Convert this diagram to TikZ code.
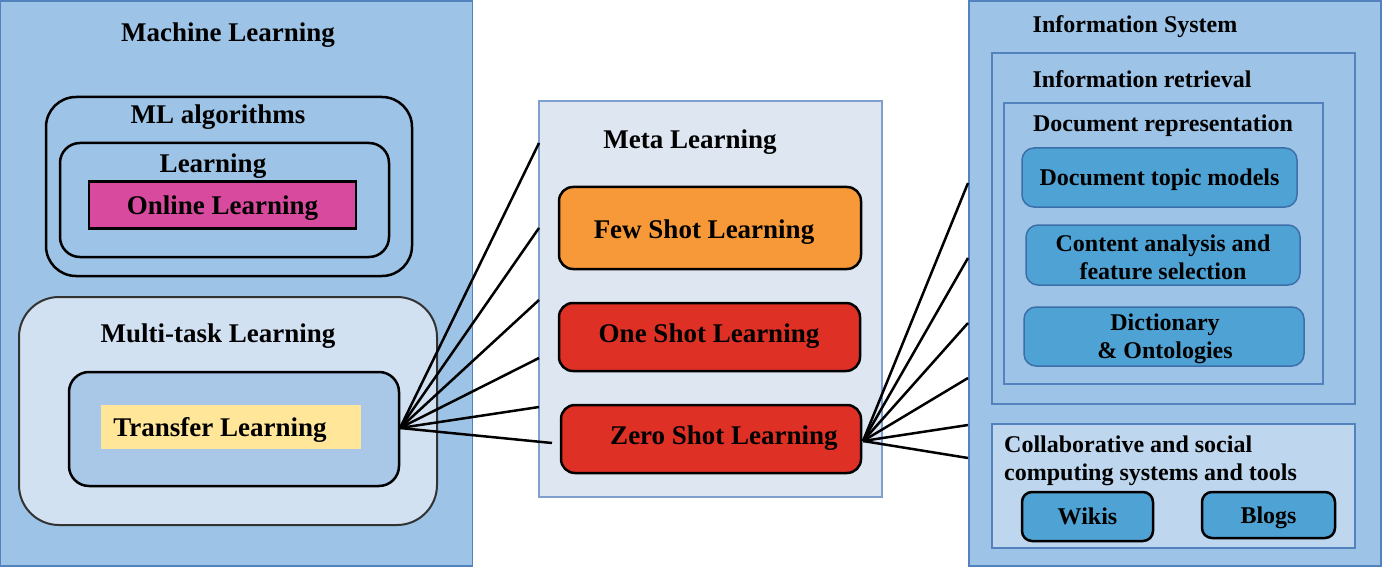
\documentclass[tikz,border=0pt]{standalone}
\usepackage{fontspec}
\setmainfont{Liberation Serif}
\begin{document}
\begin{tikzpicture}[x=1pt,y=-1pt,
  box/.style={rectangle,inner sep=0pt,outer sep=0pt},
  big/.style={box,fill=bgblue,draw=edgeblue,line width=1.5pt},
  rbox/.style={box,rounded corners=#1,draw=black,line width=2.5pt},
  lbl/.style={inner sep=0pt,text height=18pt,text depth=0pt,font=\fontsize{27}{32}\selectfont\bfseries},
  slbl/.style={inner sep=0pt,text height=16pt,text depth=0pt,font=\fontsize{24}{28}\selectfont\bfseries},
  mlbl/.style={inner sep=0pt,font=\fontsize{24}{28}\selectfont\bfseries,align=left},
  shot/.style={box,rounded corners=14pt,draw=black,line width=2.5pt},
  bluebox/.style={box,rounded corners=12pt,fill=midblue,draw=darkblue,line width=1.5pt,font=\fontsize{24}{28}\selectfont\bfseries,align=center},
  tool/.style={box,rounded corners=10pt,fill=midblue,draw=black,line width=2.5pt,text height=16pt,text depth=0pt,font=\fontsize{24}{28}\selectfont\bfseries},
  conn/.style={draw=black,line width=2.5pt}]
\definecolor{bgblue}{RGB}{157,195,230}
\definecolor{edgeblue}{RGB}{84,130,190}
\definecolor{multibg}{RGB}{210,225,242}
\definecolor{innerbg}{RGB}{169,199,231}
\definecolor{metabg}{RGB}{222,231,241}
\definecolor{metaedge}{RGB}{127,159,207}
\definecolor{orangefill}{RGB}{247,153,56}
\definecolor{redfill}{RGB}{222,48,37}
\definecolor{magentafill}{RGB}{216,74,158}
\definecolor{yellowfill}{RGB}{255,230,153}
\definecolor{midblue}{RGB}{79,163,212}
\definecolor{darkblue}{RGB}{60,110,170}
\definecolor{collabbg}{RGB}{190,214,238}
\definecolor{greyedge}{RGB}{50,50,50}
\useasboundingbox (0,0) rectangle (1382,567);

% ---------- Machine Learning ----------
\node[big,minimum width=472pt,minimum height=565pt] (ml) at (236.5,283.5) {};
\node[lbl] (mlT) at (228,33) {Machine Learning};
\node[rbox=30pt,minimum width=366pt,minimum height=179pt] (alg) at (229,186.5) {};
\node[lbl] (algT) at (218,115) {ML algorithms};
\node[rbox=20pt,minimum width=329pt,minimum height=114pt] (learn) at (224.5,200) {};
\node[lbl] (learnT) at (213,163) {Learning};
\node[box,fill=magentafill,draw=black,line width=2.5pt,minimum width=267pt,minimum height=47pt,text height=18pt,text depth=0pt,font=\fontsize{27}{32}\selectfont\bfseries] (online) at (222.5,205) {Online Learning};
\node[box,rounded corners=40pt,fill=multibg,draw=greyedge,line width=2pt,minimum width=418pt,minimum height=228pt] (multi) at (228,411) {};
\node[lbl] (multiT) at (218,333) {Multi-task Learning};
\node[rbox=20pt,fill=innerbg,minimum width=330pt,minimum height=114pt] (tinner) at (234,429) {};
\node[box,fill=yellowfill,minimum width=260pt,minimum height=44pt] (transfer) at (231,427) {};
\node[lbl] (transferT) at (220,427) {Transfer Learning};

% ---------- Meta Learning ----------
\node[box,fill=metabg,draw=metaedge,line width=1.5pt,minimum width=343pt,minimum height=396pt] (meta) at (710.5,299) {};
\node[lbl] (metaT) at (690,140) {Meta Learning};
\node[shot,fill=orangefill,minimum width=302pt,minimum height=82pt] (few) at (710,228) {};
\node[lbl] (fewT) at (704,229) {Few Shot Learning};
\node[shot,fill=redfill,minimum width=301pt,minimum height=68pt] (one) at (709.5,337) {};
\node[lbl] (oneT) at (709,333) {One Shot Learning};
\node[shot,fill=redfill,minimum width=300pt,minimum height=68pt] (zero) at (711,439) {};
\node[lbl] (zeroT) at (724,435) {Zero Shot Learning};

% ---------- Information System ----------
\node[big,minimum width=412pt,minimum height=565pt] (info) at (1175,283.5) {};
\node[slbl] (infoT) at (1135,25) {Information System};
\node[box,draw=edgeblue,line width=1.5pt,minimum width=363pt,minimum height=351pt] (ir) at (1173.5,228.5) {};
\node[slbl] (irT) at (1142,80) {Information retrieval};
\node[box,draw=edgeblue,line width=1.5pt,minimum width=319pt,minimum height=281pt] (dr) at (1163.5,243.5) {};
\node[slbl] (drT) at (1163,124) {Document representation};
\node[bluebox,text height=16pt,text depth=0pt,minimum width=275pt,minimum height=59pt] (dtm) at (1159.5,177.5) {Document topic models};
\node[box,rounded corners=12pt,fill=midblue,draw=darkblue,line width=1.5pt,minimum width=274pt,minimum height=60pt] (ca) at (1163,255) {};
\node[mlbl,align=center] (caT) at (1163,257) {Content analysis and\\feature selection};
\node[box,rounded corners=12pt,fill=midblue,draw=darkblue,line width=1.5pt,minimum width=280pt,minimum height=59pt] (dict) at (1164,336.5) {};
\node[mlbl,align=center] (dictT) at (1165,339) {Dictionary\\\& Ontologies};
\node[box,fill=collabbg,draw=edgeblue,line width=1.5pt,minimum width=363pt,minimum height=124pt] (collab) at (1173.5,486) {};
\node[mlbl,anchor=west] (collabT) at (1004,461) {Collaborative and social\\computing systems and tools};
\node[tool,minimum width=131pt,minimum height=49pt] (wikis) at (1087.5,516.5) {Wikis};
\node[tool,minimum width=133pt,minimum height=46pt] (blogs) at (1268.5,515) {Blogs};

% ---------- connectors ----------
\coordinate (hubL) at (400,428);
\coordinate (a1) at (539,143);
\coordinate (a2) at (539,228);
\coordinate (a3) at (539,300);
\coordinate (a4) at (539,358);
\coordinate (a5) at (539,407);
\coordinate (a6) at (552,443);
\foreach \t in {a1,a2,a3,a4,a5,a6} \draw[conn] (hubL) -- (\t);
\coordinate (hubR) at (863,441);
\coordinate (b1) at (968,183);
\coordinate (b2) at (968,258);
\coordinate (b3) at (968,323);
\coordinate (b4) at (968,378);
\coordinate (b5) at (968,425);
\coordinate (b6) at (968,458);
\foreach \t in {b1,b2,b3,b4,b5,b6} \draw[conn] (hubR) -- (\t);
\end{tikzpicture}
\end{document}
